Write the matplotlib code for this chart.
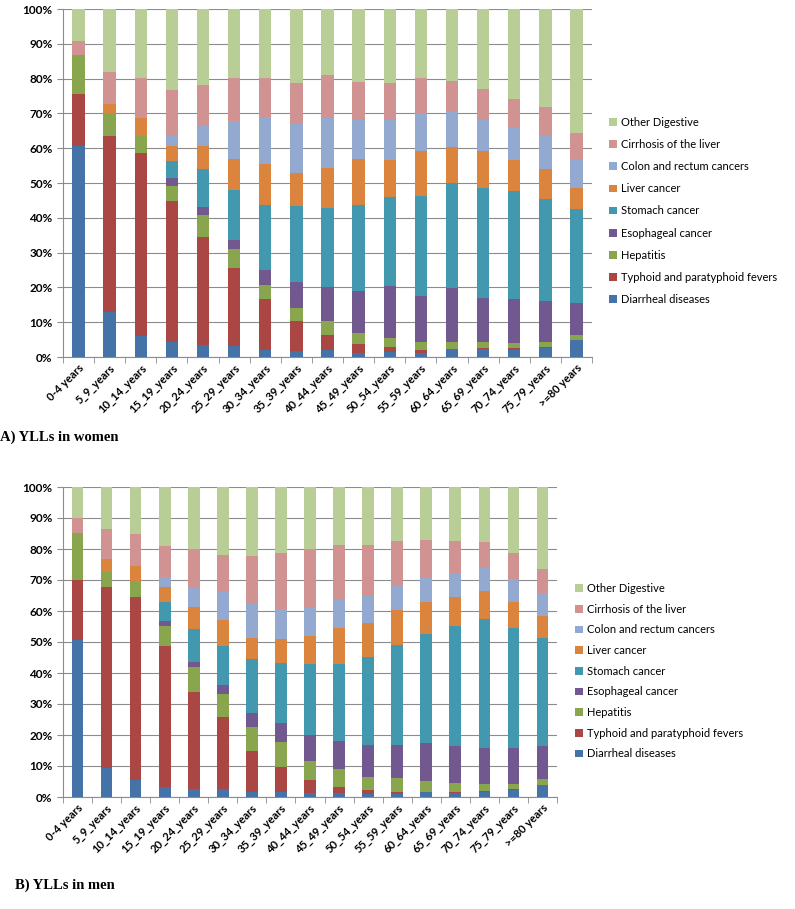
import matplotlib
matplotlib.use("Agg")
import matplotlib.pyplot as plt
import numpy as np
from matplotlib.ticker import FixedLocator, PercentFormatter

age_groups = ['0-4 years', '5_9_years', '10_14_years', '15_19_years', '20_24_years',
              '25_29_years', '30_34_years', '35_39_years', '40_44_years', '45_49_years',
              '50_54_years', '55_59_years', '60_64_years', '65_69_years', '70_74_years',
              '75_79_years', '>=80 years']

causes = ['Diarrheal diseases', 'Typhoid and paratyphoid fevers', 'Hepatitis',
          'Esophageal cancer', 'Stomach cancer', 'Liver cancer',
          'Colon and rectum cancers', 'Cirrhosis of the liver', 'Other Digestive']

# A) women, % of YLLs per age group
diarrheal_w = [60.6, 12.9, 6.0, 4.4, 3.5, 3.2, 2.0, 1.7, 1.9, 1.2, 1.4, 1.1, 2.2, 2.2, 2.1, 2.6, 4.8]
typhoid_w = [14.9, 50.6, 52.7, 40.4, 30.9, 22.5, 14.8, 8.6, 4.5, 2.5, 1.6, 0.8, 0.2, 0.3, 0.5, 0.3, 0.2]
hepatitis_w = [11.2, 6.7, 4.9, 4.3, 6.3, 5.2, 3.8, 3.9, 3.9, 3.1, 2.6, 2.3, 1.9, 1.7, 1.4, 1.4, 1.2]
esophageal_w = [0, 0, 0, 2.2, 2.4, 2.7, 4.5, 7.4, 9.8, 12.2, 14.8, 13.2, 15.4, 12.8, 12.7, 11.7, 9.4]
stomach_w = [0, 0, 0, 5.1, 10.8, 14.3, 18.7, 21.9, 22.6, 24.7, 25.7, 29.0, 30.4, 31.6, 31.0, 29.3, 26.8]
liver_w = [0, 2.5, 5.0, 4.2, 6.7, 8.9, 11.7, 9.5, 11.7, 13.1, 10.6, 12.9, 10.2, 10.7, 8.9, 8.7, 6.2]
colon_w = [0, 0, 0, 3.0, 5.9, 11.1, 13.5, 14.3, 14.2, 11.3, 11.4, 10.6, 10.3, 8.9, 9.3, 9.5, 8.0]
cirrhosis_w = [4.1, 9.3, 11.6, 13.1, 11.6, 12.2, 11.2, 11.3, 12.5, 10.9, 10.6, 10.4, 8.7, 8.9, 8.2, 8.2, 7.8]
other_w = [9.2, 18.0, 19.8, 23.3, 21.9, 19.9, 19.8, 21.4, 18.9, 21.0, 21.3, 19.7, 20.7, 22.9, 25.9, 28.3, 35.6]

# B) men
diarrheal_m = [50.5, 9.2, 5.4, 3.2, 2.5, 2.5, 1.5, 1.6, 1.3, 1.2, 1.1, 1.1, 1.5, 1.4, 1.6, 2.2, 3.8]
typhoid_m = [19.4, 58.6, 59.0, 45.4, 31.3, 23.3, 13.3, 8.0, 4.1, 2.0, 1.2, 0.6, 0.2, 0.2, 0.2, 0.3, 0.2]
hepatitis_m = [15.4, 4.8, 5.2, 6.6, 8.0, 7.3, 7.8, 8.0, 6.1, 5.9, 4.0, 4.3, 3.6, 2.9, 2.4, 1.6, 1.7]
esophageal_m = [0, 0, 0, 1.5, 1.7, 3.1, 4.6, 6.3, 8.6, 8.9, 10.4, 10.8, 12.1, 12.0, 11.6, 11.7, 10.8]
stomach_m = [0, 0, 0, 6.2, 10.8, 12.4, 17.3, 19.3, 22.8, 24.8, 28.5, 32.1, 35.1, 38.6, 41.7, 38.8, 34.8]
liver_m = [0, 4.1, 4.9, 4.7, 7.1, 8.5, 6.8, 7.8, 9.0, 11.7, 10.8, 11.3, 10.4, 9.4, 8.8, 8.3, 7.0]
colon_m = [0, 0, 0, 3.5, 6.2, 9.1, 11.0, 9.8, 9.5, 9.3, 8.7, 8.0, 7.9, 7.3, 7.6, 7.4, 7.3]
cirrhosis_m = [4.7, 9.6, 10.4, 9.8, 12.3, 12.0, 15.4, 17.9, 18.5, 17.6, 16.7, 14.3, 12.0, 10.8, 8.5, 8.4, 7.8]
other_m = [10.0, 13.7, 15.1, 19.1, 20.1, 21.8, 22.3, 21.3, 20.1, 18.6, 18.6, 17.5, 17.2, 17.4, 17.6, 21.3, 26.6]

colors = ['#4572A7', '#AA4643', '#89A54E', '#71588F', '#4198AF',
          '#DB843D', '#93A9CF', '#D19392', '#B9CD96']

women = [diarrheal_w, typhoid_w, hepatitis_w, esophageal_w, stomach_w,
         liver_w, colon_w, cirrhosis_w, other_w]
men = [diarrheal_m, typhoid_m, hepatitis_m, esophageal_m, stomach_m,
       liver_m, colon_m, cirrhosis_m, other_m]

plt.rcParams['font.family'] = ['Lato', 'DejaVu Sans']


def stacked(fig, rect, series, legend_xy, legend_gap):
    ax = fig.add_axes(rect)
    x = np.arange(len(age_groups))
    bottom = np.zeros(len(age_groups))
    handles = []
    for name, vals, col in zip(causes, series, colors):
        vals = np.array(vals, dtype=float)
        b = ax.bar(x, vals, 0.4, bottom=bottom, color=col, label=name, linewidth=0, zorder=3)
        bottom += vals
        handles.append(b)

    ax.set_xlim(-0.5, len(age_groups) - 0.5)
    ax.set_ylim(0, 100)
    ax.set_yticks(np.arange(0, 101, 10))
    ax.yaxis.set_major_formatter(PercentFormatter(decimals=0))
    ax.grid(True, axis='y', color='#8c8c8c', linewidth=0.8, zorder=0)
    ax.set_xticks(x)
    ax.set_xticklabels(age_groups, rotation=45, ha='right', rotation_mode='anchor',
                       fontsize=8, fontweight='bold')
    ax.tick_params(axis='x', which='major', length=0, pad=4)
    ax.xaxis.set_minor_locator(FixedLocator(np.arange(-0.5, len(age_groups), 1)))
    ax.tick_params(axis='x', which='minor', length=4, color='#8c8c8c')
    ax.tick_params(axis='y', length=4, color='#8c8c8c', labelsize=8.5)
    for lab in ax.get_yticklabels():
        lab.set_fontweight('bold')
    for s in ['top', 'right']:
        ax.spines[s].set_visible(False)
    for s in ['left', 'bottom']:
        ax.spines[s].set_color('#8c8c8c')

    fig.legend(handles[::-1], causes[::-1], loc='upper left', bbox_to_anchor=legend_xy,
               frameon=False, fontsize=8, handlelength=0.7, handleheight=0.7,
               handletextpad=0.4, labelspacing=legend_gap, borderpad=0, borderaxespad=0)
    return ax


fig = plt.figure(figsize=(7.95, 9.09), dpi=100)

stacked(fig, [63 / 795, 1 - 357 / 909, 529 / 795, 348 / 909], women,
        (609 / 795, 1 - 117 / 909), 1.0)
stacked(fig, [63 / 795, 1 - 797 / 909, 494 / 795, 310 / 909], men,
        (575 / 795, 1 - 583 / 909), 0.87)

fig.text(0, 1 - 437 / 909, 'A) YLLs in women', fontfamily='Liberation Serif',
         fontweight='bold', fontsize=10.5, va='center', ha='left')
fig.text(15 / 795, 1 - 885 / 909, 'B) YLLs in men', fontfamily='Liberation Serif',
         fontweight='bold', fontsize=10.5, va='center', ha='left')

fig.savefig('out.png', dpi=100)
